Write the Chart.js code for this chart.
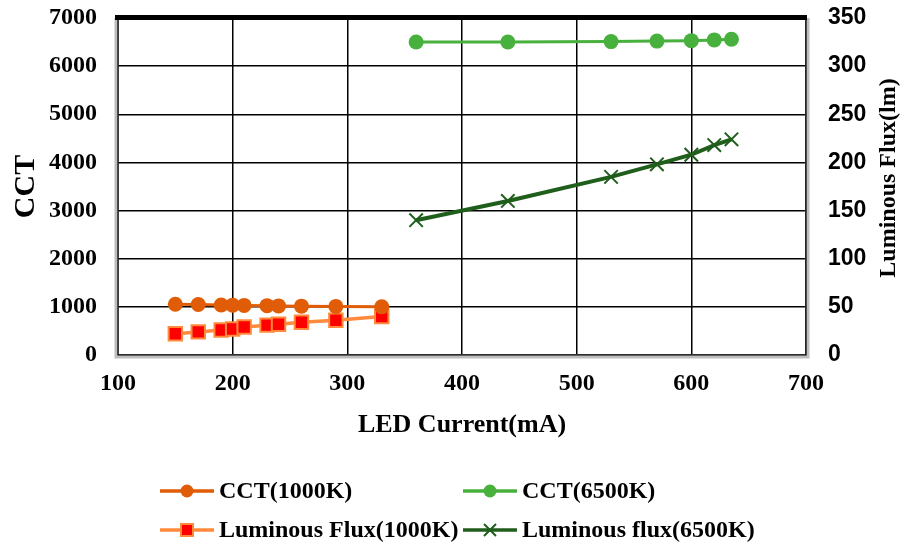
<!DOCTYPE html>
<html><head><meta charset="utf-8">
<script src="https://cdn.jsdelivr.net/npm/chart.js@4/dist/chart.umd.min.js"></script>
<style>html,body{margin:0;padding:0;background:#fff}</style>
</head><body>
<canvas id="c" width="906" height="549"></canvas>
<script>
// ---- data ----
const currentLow = [150, 170, 190, 200, 210, 230, 240, 260, 290, 330];
const cctLow = [1055, 1050, 1040, 1035, 1030, 1025, 1020, 1015, 1010, 1000];
const fluxLow = [22, 24, 26, 27, 29, 31, 32, 34, 36, 40];
const currentHigh = [360, 440, 530, 570, 600, 620, 635];
const cctHigh = [6500, 6500, 6510, 6520, 6530, 6545, 6560];
const fluxHigh = [140, 160, 185, 198, 208, 218, 224];
const seriesNames = ['CCT(1000K)', 'CCT(6500K)', 'Luminous Flux(1000K)', 'Luminous flux(6500K)'];
const xTitle = 'LED Current(mA)';
const yTitle = 'CCT';
const y1Title = 'Luminous Flux(lm)';

const SERIF = '"Liberation Serif", "Times New Roman", serif';
const SANS = '"Liberation Sans", Arial, sans-serif';
const pts = (xs, ys) => xs.map((x, i) => ({x: x, y: ys[i]}));
const plain = v => String(v);
const noPad = s => { s.paddingTop = 0; s.paddingBottom = 0; s.paddingLeft = 0; s.paddingRight = 0; };

const C_ORANGE = '#E05C06', C_LORANGE = '#FF8A3C', C_RED = '#FF0000', C_GREEN = '#48B03C', C_DGREEN = '#1F5E1B';

const datasets = [
  {label: seriesNames[0], data: pts(currentLow, cctLow), yAxisID: 'y', borderColor: C_ORANGE, backgroundColor: C_ORANGE,
   borderWidth: 3, pointStyle: 'circle', pointRadius: 7.5, pointBorderWidth: 0, pointBackgroundColor: C_ORANGE},
  {label: seriesNames[1], data: pts(currentHigh, cctHigh), yAxisID: 'y', borderColor: C_GREEN, backgroundColor: C_GREEN,
   borderWidth: 3, pointStyle: 'circle', pointRadius: 7.5, pointBorderWidth: 0, pointBackgroundColor: C_GREEN},
  {label: seriesNames[2], data: pts(currentLow, fluxLow), yAxisID: 'y1', borderColor: C_LORANGE, backgroundColor: C_RED,
   borderWidth: 3.5, pointStyle: 'rect', pointRadius: 9.5, pointBorderWidth: 2, pointBorderColor: C_LORANGE, pointBackgroundColor: C_RED},
  {label: seriesNames[3], data: pts(currentHigh, fluxHigh), yAxisID: 'y1', borderColor: C_DGREEN, backgroundColor: C_DGREEN,
   borderWidth: 4, pointStyle: 'crossRot', pointRadius: 9.5, pointBorderWidth: 2, pointBorderColor: C_DGREEN}
];

const framePlugin = {
  id: 'frame',
  beforeDatasetsDraw(chart) {
    const {ctx, chartArea: a} = chart;
    ctx.save();
    ctx.strokeStyle = '#BDBDBD'; ctx.lineWidth = 4;
    ctx.beginPath();
    ctx.moveTo(a.left - 1.5, a.top); ctx.lineTo(a.left - 1.5, a.bottom + 1.5);
    ctx.lineTo(a.right + 1.5, a.bottom + 1.5); ctx.lineTo(a.right + 1.5, a.top);
    ctx.stroke();
    ctx.strokeStyle = '#000'; ctx.lineWidth = 1.2;
    ctx.beginPath();
    ctx.moveTo(a.left, a.top); ctx.lineTo(a.left, a.bottom);
    ctx.lineTo(a.right, a.bottom); ctx.lineTo(a.right, a.top);
    ctx.stroke();
    ctx.fillStyle = '#000';
    ctx.fillRect(a.left - 3, a.top - 3, a.right - a.left + 4, 5);
    ctx.restore();
  },
  afterDraw(chart) {
    const {ctx} = chart;
    ctx.save();
    // right axis title (reads bottom to top)
    ctx.font = 'bold 24px ' + SERIF;
    ctx.fillStyle = '#000';
    ctx.textAlign = 'center'; ctx.textBaseline = 'middle';
    ctx.translate(889, 178);
    ctx.rotate(-Math.PI / 2);
    ctx.fillText(y1Title, 0, 0);
    ctx.restore();

    // legend
    const items = [
      {ds: 0, x: 160, y: 491}, {ds: 1, x: 463, y: 491},
      {ds: 2, x: 160, y: 530}, {ds: 3, x: 463, y: 530}
    ];
    ctx.save();
    items.forEach(it => {
      const d = chart.data.datasets[it.ds];
      const x0 = it.x, x1 = it.x + 54, cx = (x0 + x1) / 2, cy = it.y;
      ctx.strokeStyle = d.borderColor; ctx.lineWidth = 3.5;
      ctx.beginPath(); ctx.moveTo(x0, cy); ctx.lineTo(x1, cy); ctx.stroke();
      if (d.pointStyle === 'circle') {
        ctx.fillStyle = d.pointBackgroundColor;
        ctx.beginPath(); ctx.arc(cx, cy, 6.5, 0, Math.PI * 2); ctx.fill();
      } else if (d.pointStyle === 'rect') {
        ctx.fillStyle = d.pointBackgroundColor; ctx.strokeStyle = d.pointBorderColor; ctx.lineWidth = 2;
        ctx.fillRect(cx - 6, cy - 6, 12, 12); ctx.strokeRect(cx - 6, cy - 6, 12, 12);
      } else {
        ctx.strokeStyle = d.pointBorderColor; ctx.lineWidth = 2;
        ctx.beginPath();
        ctx.moveTo(cx - 6, cy - 6); ctx.lineTo(cx + 6, cy + 6);
        ctx.moveTo(cx - 6, cy + 6); ctx.lineTo(cx + 6, cy - 6);
        ctx.stroke();
      }
      ctx.fillStyle = '#000';
      ctx.font = 'bold 24px ' + SERIF;
      ctx.textAlign = 'left'; ctx.textBaseline = 'middle';
      ctx.fillText(d.label, x1 + 5, cy + 1);
    });
    ctx.restore();
  }
};

new Chart(document.getElementById('c'), {
  type: 'line',
  data: {datasets: datasets},
  options: {
    responsive: false, animation: false, devicePixelRatio: 1,
    layout: {padding: {top: 18, left: 0, right: 0, bottom: 0}},
    plugins: {legend: {display: false}, tooltip: {enabled: false}},
    scales: {
      x: {
        type: 'linear', min: 100, max: 700,
        ticks: {stepSize: 100, color: '#000', padding: 14, callback: plain, font: {family: SERIF, weight: 'bold', size: 24}},
        grid: {color: '#000', lineWidth: 1.5, drawTicks: false},
        border: {display: false},
        title: {display: true, text: xTitle, color: '#000', font: {family: SERIF, weight: 'bold', size: 26}, padding: {top: 0, bottom: 108}},
        afterFit(s) { s.height = 194; noPad(s); }
      },
      y: {
        position: 'left', min: 0, max: 7000,
        ticks: {stepSize: 1000, color: '#000', padding: 21, callback: plain, font: {family: SERIF, weight: 'bold', size: 24}},
        grid: {color: '#000', lineWidth: 1.5, drawTicks: false},
        border: {display: false},
        title: {display: true, text: yTitle, color: '#000', font: {family: SERIF, weight: 'bold', size: 30}, padding: {top: 8, bottom: 0}},
        afterFit(s) { s.width = 118; noPad(s); }
      },
      y1: {
        position: 'right', min: 0, max: 350,
        ticks: {stepSize: 50, color: '#000', padding: 22, callback: plain, font: {family: SANS, weight: 'bold', size: 23}},
        grid: {display: false, drawTicks: false},
        border: {display: false},
        afterFit(s) { s.width = 100; noPad(s); }
      }
    }
  },
  plugins: [framePlugin]
});
</script>
</body></html>
